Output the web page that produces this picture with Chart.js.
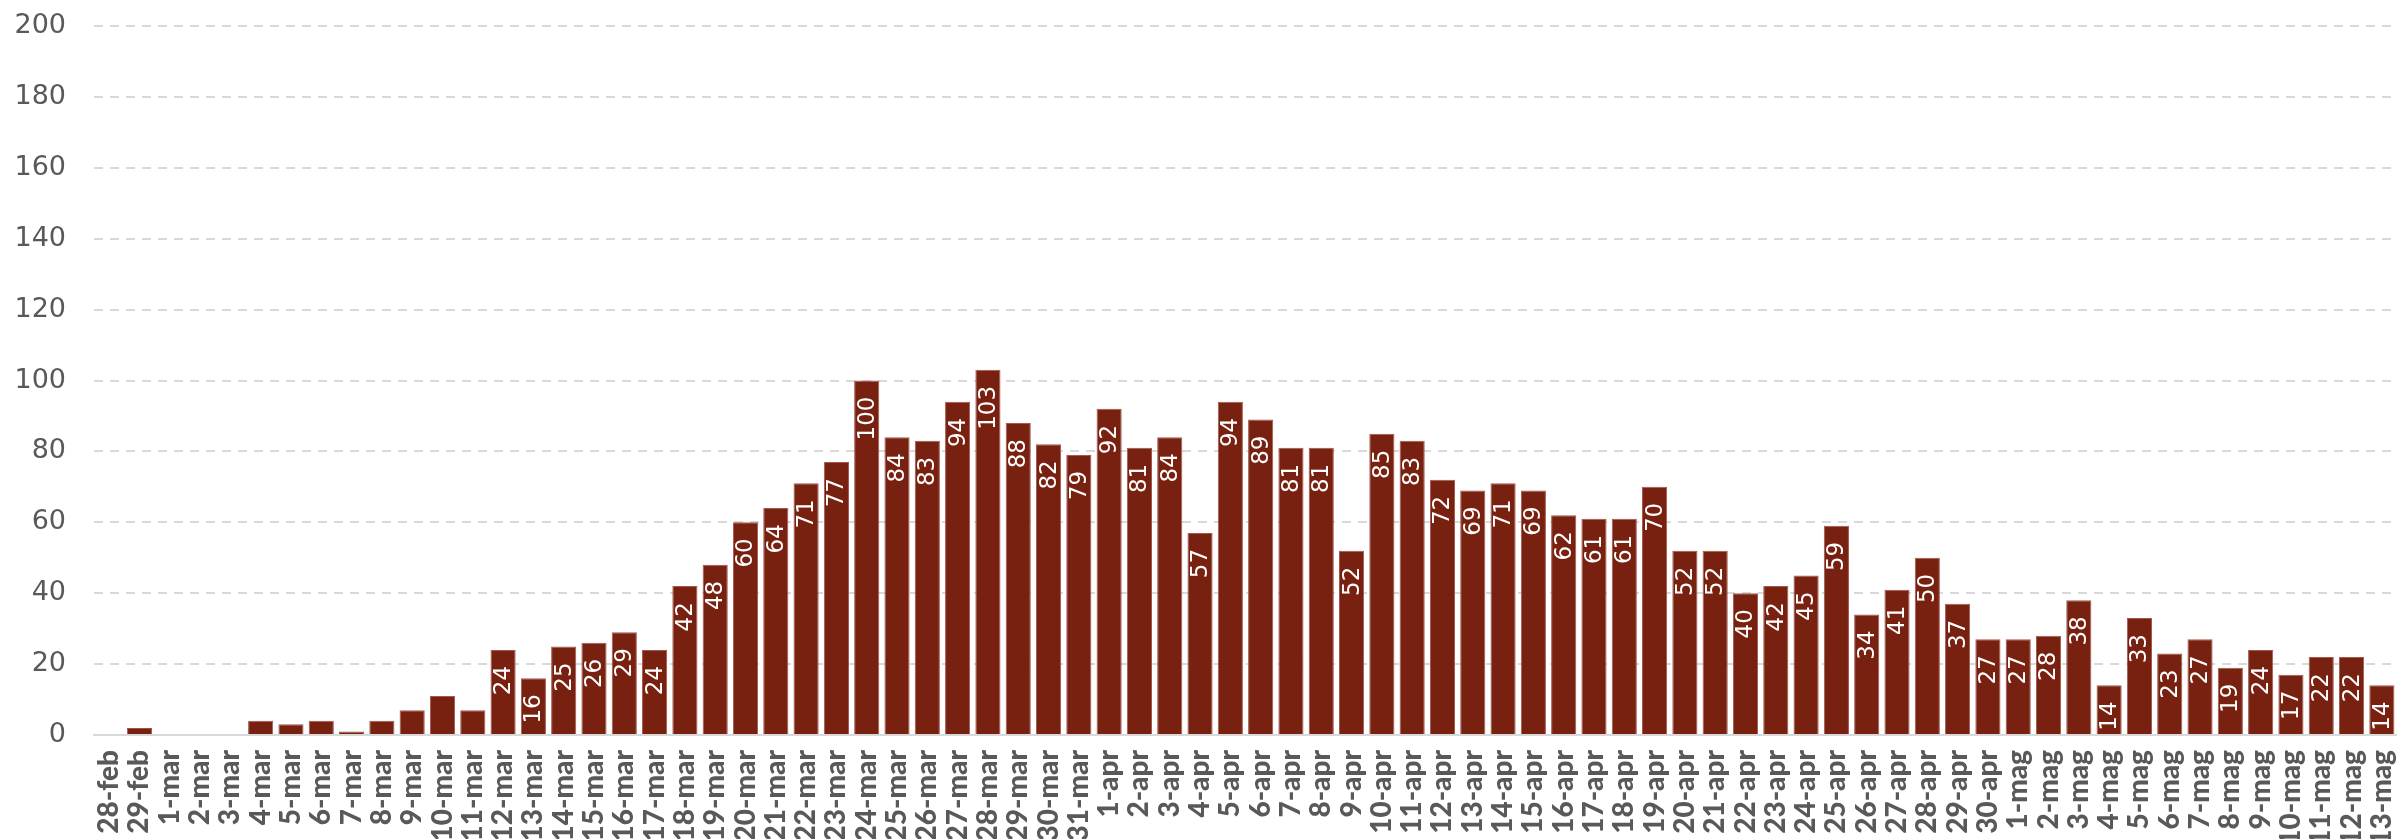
<!DOCTYPE html>
<html>
<head>
<meta charset="utf-8">
<script src="https://cdn.jsdelivr.net/npm/chart.js@4/dist/chart.umd.min.js"></script>
<style>
  html, body { margin: 0; padding: 0; background: #ffffff; }
  #wrap { width: 2397px; height: 839px; position: relative; }
  .pre { position: absolute; left: -9999px; top: 0; }
</style>
</head>
<body>
<span class="pre" style="font: 900 28px Lato;">28-feb 1-mar</span>
<span class="pre" style="font: 27px 'DejaVu Sans';">200 100</span>
<div id="wrap"><canvas id="c"></canvas></div>
<script>
const categories = [
  "28-feb","29-feb",
  "1-mar","2-mar","3-mar","4-mar","5-mar","6-mar","7-mar","8-mar","9-mar","10-mar",
  "11-mar","12-mar","13-mar","14-mar","15-mar","16-mar","17-mar","18-mar","19-mar","20-mar",
  "21-mar","22-mar","23-mar","24-mar","25-mar","26-mar","27-mar","28-mar","29-mar","30-mar","31-mar",
  "1-apr","2-apr","3-apr","4-apr","5-apr","6-apr","7-apr","8-apr","9-apr","10-apr",
  "11-apr","12-apr","13-apr","14-apr","15-apr","16-apr","17-apr","18-apr","19-apr","20-apr",
  "21-apr","22-apr","23-apr","24-apr","25-apr","26-apr","27-apr","28-apr","29-apr","30-apr",
  "1-mag","2-mag","3-mag","4-mag","5-mag","6-mag","7-mag","8-mag","9-mag","10-mag",
  "11-mag","12-mag","13-mag"
];
const values = [
  0, 2,
  0, 0, 0, 4, 3, 4, 1, 4, 7, 11,
  7, 24, 16, 25, 26, 29, 24, 42, 48, 60,
  64, 71, 77, 100, 84, 83, 94, 103, 88, 82, 79,
  92, 81, 84, 57, 94, 89, 81, 81, 52, 85,
  83, 72, 69, 71, 69, 62, 61, 61, 70, 52,
  52, 40, 42, 45, 59, 34, 41, 50, 37, 27,
  27, 28, 38, 14, 33, 23, 27, 19, 24, 17,
  22, 22, 14
];
const yTicks = [0, 20, 40, 60, 80, 100, 120, 140, 160, 180, 200];

const NUM_FONT = "'DejaVu Sans', sans-serif";
const CAT_FONT = "Lato, sans-serif";

const barLabels = {
  id: 'barLabels',
  afterDatasetsDraw(chart) {
    const ctx = chart.ctx;
    const meta = chart.getDatasetMeta(0);
    const pad = 16;
    ctx.save();
    ctx.font = "23px " + NUM_FONT;
    ctx.fillStyle = "#ffffff";
    meta.data.forEach((bar, i) => {
      const v = values[i];
      const txt = String(v);
      const w = ctx.measureText(txt).width;
      const h = bar.base - bar.y;
      if (w + pad > h) return;
      ctx.save();
      ctx.translate(bar.x, bar.y + pad);
      ctx.rotate(-Math.PI / 2);
      ctx.textAlign = "right";
      ctx.textBaseline = "middle";
      ctx.fillText(txt, 0, 1);
      ctx.restore();
    });
    ctx.restore();
  }
};

const chart = new Chart(document.getElementById('c'), {
  type: 'bar',
  data: {
    labels: categories,
    datasets: [{
      data: values,
      backgroundColor: '#782111',
      borderColor: '#a3594c',
      borderWidth: 1,
      borderSkipped: 'bottom',
      categoryPercentage: 1.0,
      barPercentage: 0.83
    }]
  },
  options: {
    responsive: true,
    maintainAspectRatio: false,
    animation: false,
    layout: { padding: { top: 26, right: 0, bottom: 0, left: 0 } },
    plugins: {
      legend: { display: false },
      tooltip: { enabled: false }
    },
    scales: {
      x: {
        grid: { display: false, drawTicks: false },
        border: { display: true, color: '#d9d9d9', width: 2 },
        ticks: {
          autoSkip: false,
          minRotation: 90,
          maxRotation: 90,
          padding: 15,
          color: '#595959',
          font: { family: CAT_FONT, size: 28, weight: 900 }
        },
        afterFit(scale) { scale.height = 104; scale.paddingLeft = 0; scale.paddingRight = 0; }
      },
      y: {
        min: 0,
        max: 200,
        afterBuildTicks(scale) { scale.ticks = yTicks.map(v => ({ value: v })); },
        grid: {
          drawTicks: false,
          lineWidth: 2,
          color: (c) => (c.tick && c.tick.value === 0) ? 'rgba(0,0,0,0)' : '#d9d9d9'
        },
        border: { display: false, dash: [9, 7] },
        ticks: {
          padding: 28,
          color: '#595959',
          font: { family: NUM_FONT, size: 27 }
        },
        afterFit(scale) { scale.width = 94; scale.paddingTop = 0; scale.paddingBottom = 0; }
      }
    }
  },
  plugins: [barLabels]
});

if (document.fonts && document.fonts.load) {
  Promise.all([
    document.fonts.load("900 28px Lato"),
    document.fonts.load("27px 'DejaVu Sans'")
  ]).then(() => chart.update()).catch(() => {});
}
</script>
</body>
</html>
